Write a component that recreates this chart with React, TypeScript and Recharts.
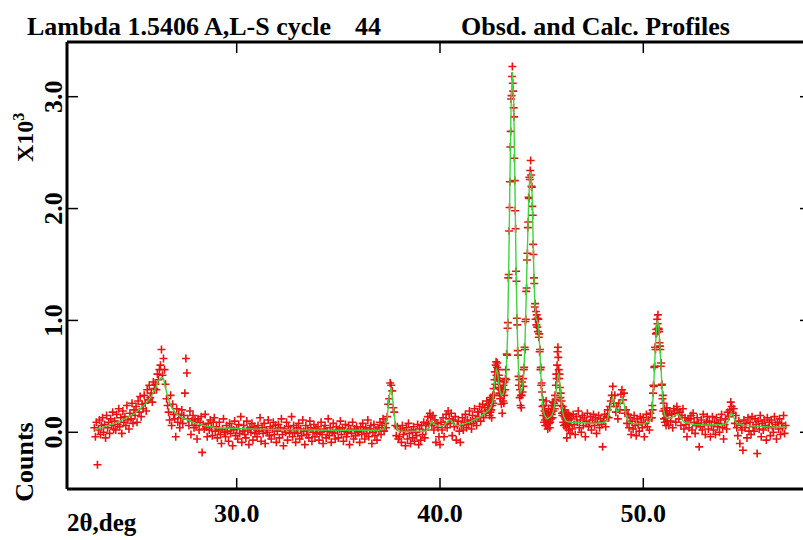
import { ScatterChart, Scatter, XAxis, YAxis } from 'recharts';

const W = 830;
const H = 540;
const FONT = "'Liberation Serif', 'Times New Roman', serif";

const X_TICKS = [30, 40, 50];
const Y_TICKS = [0, 1000, 2000, 3000];
const X_DOMAIN = [21.653, 58.249];
const Y_DOMAIN = [-507, 3489];

// observed counts, 23.00 -> 42.40 step 0.05
const OBS_A = [
  40, -40, 90, -290, 20, 110, -20, 60, 130, 0, 70, -50, 150, 40, 90, -10, 120, 60, 180, 30,
  100, 20, 160, 70, 210, 50, 130, -10, 190, 90, 140, 60, 240, 110, 30, 170, 120, 260, 80, 200,
  150, 230, 90, 280, 180, 320, 140, 250, 210, 330, 260, 190, 380, 290, 420, 310, 350, 270, 450, 390,
  430, 380, 520, 470, 560, 600, 740, 510, 660, 560, 430, 300, 240, 180, 110, 330, 60, 250, 160, 120,
  -40, 210, 90, 160, 40, 130, 200, 80, 150, 350, 660, 530, 120, 60, 190, -20, 100, 150, 40, 110,
  60, -60, 120, 20, 90, 140, -180, 70, 30, 160, 50, -40, 80, 20, 110, 40, -30, 90, 130, 10,
  50, -50, 20, 90, -20, -100, 30, 120, 0, -40, 60, 10, -80, 80, -10, 40, -120, 20, 100, -30,
  30, -60, 70, -10, 140, -90, 10, 60, -20, -50, 100, 20, -110, 40, 0, 80, -70, 50, -10, 30,
  -40, 60, 10, 130, -80, 40, -10, 80, -100, 20, 0, 110, -30, 50, -60, 30, 90, -20, 60, -90,
  10, 70, -50, 40, 120, -20, -120, 30, 0, 90, -70, 50, -10, 20, 140, -40, 60, 0, -90, 40,
  -10, 80, -60, 30, -30, 110, 10, -110, 60, -20, 20, -50, 100, 40, -80, 0, 70, -40, 30, -10,
  50, -70, 0, 90, -20, -100, 30, 60, -50, 10, 120, -30, 40, -90, 0, 80, -10, -60, 50, 20,
  -50, 30, 100, -20, 40, -80, 10, 70, -40, 0, 60, -110, 20, -10, 90, -60, 30, -30, 50, 10,
  0, -90, 50, -20, 80, 20, -60, 40, -10, 110, -40, 30, 60, -100, 0, 70, -30, 20, -70, 40,
  20, 90, -20, 60, 120, 10, 80, 40, 140, 250, 300, 440, 420, 370, 220, 180, 60, -30, 50, -60,
  -40, 30, -90, 60, -20, 10, -120, 40, -60, 80, -10, -100, 20, -50, 50, -80, 0, -30, 70, -110,
  30, -70, 60, -20, 90, -50, 20, 80, 140, 70, 170, 130, 60, 150, 20, 110, -90, 80, 40, -40,
  -110, 90, 20, 130, -40, 70, 160, 40, 190, 120, 80, 170, -30, 110, 50, 140, -70, 60, 100, 10,
  -90, 60, 130, 20, 90, 160, 40, 110, 70, 190, 100, 30, 150, 80, 210, 120, 60, 180, 140, 230,
  100, 190, 250, 130, 220, 170, 280, 200, 240,
];

// observed counts, 42.42 -> 46.40 step 0.02
const OBS_B = [
  260, 150, 290, 180, 310, 200, 130, 280, 240, 330,
  260, 390, 330, 470, 540, 430, 600, 630, 510, 580,
  620, 480, 560, 400, 510, 350, 460, 300, 380, 330,
  250, 390, 170, 360, 280, 420, 260, 330, 450, 380,
  480, 560, 470, 700, 690, 930, 980, 1380, 1410, 1800,
  2010, 2240, 2550, 2690, 2980, 3010, 3180, 3270, 3120, 3050,
  2900, 2820, 2450, 2250, 1980, 1820, 1440, 1350, 1020, 960,
  730, 690, 500, 420, 470, 310, 380, 240, 330, 220,
  330, 450, 360, 480, 410, 560, 580, 760, 740, 990,
  1010, 1260, 1290, 1540, 1600, 1830, 1880, 2100, 2090, 2280,
  2260, 2340, 2430, 2300, 2200, 2190, 2020, 1940, 1680, 1590,
  1380, 1330, 1120, 1150, 1010, 1080, 960, 1050, 940, 1020,
  900, 1010, 850, 880, 720, 740, 560, 580, 420, 440,
  360, 230, 290, 150, 240, 90, 190, 110, 60, 170,
  280, 60, 170, 100, 30, 150, 210, 80, 130, 40,
  90, 180, 120, 210, 160, 240, 130, 270, 190, 240,
  260, 210, 330, 290, 420, 520, 480, 600, 720, 760,
  670, 560, 480, 520, 400, 310, 350, 240, 280, 170,
  150, 230, 90, 180, 60, 140, 200, 70, 120, 160,
  40, -50, 130, 80, 170, 20, 110, 60, 150, -10,
];

// observed counts, 46.45 -> 50.40 step 0.05
const OBS_C = [
  120, 30, 160, 70, -20, 140, 90, 190, 40, 110, 0, 150, 60, 130, -40, 100, 170, 50, 80, 140,
  20, 110, 160, 60, 130, -10, 90, 150, 40, 120, 70, -130, 100, 160, 50, 140, 200, 130, 230, 280,
  330, 410, 260, 330, 180, 230, 120, 260, 200, 340, 380, 290, 350, 170, 200, 80, 160, 40, 130, -20,
  100, 30, 150, 60, -30, 120, 70, 10, 140, 90, 40, 130, -40, 80, 160, 50, 110, 20, 170, 130,
];

// observed counts, 50.42 -> 51.20 step 0.02
const OBS_D = [
  130, 240, 200, 350, 420, 410, 580, 590, 760, 740,
  880, 920, 890, 1010, 970, 1050, 930, 920, 900, 800,
  770, 740, 590, 620, 420, 430, 300, 330, 190, 260,
  120, 210, 90, 190, 130, 60, 170, 220, 100, 150,
];

// observed counts, 51.25 -> 57.00 step 0.05
const OBS_E = [
  60, 190, 100, 160, 40, 210, 170, 90, 230, 200, 120, 180, 60, 150, 210, 30, 130, 70, -40, 110,
  40, 120, 150, 20, 170, 90, -10, 60, 130, 80, -130, 50, 110, 20, 160, 70, -20, 90, 140, 30,
  100, -40, 60, 140, 20, 90, -20, 130, 50, 80, 0, 110, 160, 40, -60, 70, 120, 30, 180, 140,
  200, 270, 230, 170, 210, 80, 150, 40, -30, 100, -100, 60, 20, -160, 110, 40, 80, -50, 130, 10,
  90, -20, 140, 50, 10, 120, 70, -190, 100, 30, 150, -40, 80, 20, 110, 60, -70, 130, 40, 90,
  -30, 110, 50, 0, 140, 70, -60, 90, 30, 120, -20, 80, 40, 150, -10, 60,
];

// calculated profile
const CALC_X = [
  23.0, 23.5, 24.0, 24.5, 25.0, 25.5, 25.8, 26.0, 26.15, 26.3, 26.4, 26.5, 26.6, 26.8, 27.0, 27.3, 27.6, 28.0, 28.5,
  29.0, 31.0, 33.0, 35.0, 37.0, 37.25, 37.4, 37.5, 37.6, 37.7, 37.8, 37.95, 38.5, 39.3, 39.45, 39.6, 39.75, 39.9,
  40.2, 40.35, 40.45, 40.55, 40.7, 40.9, 41.5, 42.0, 42.4, 42.5, 42.6, 42.66, 42.72, 42.78, 42.84, 42.9, 42.96,
  43.02, 43.1, 43.18, 43.26, 43.32, 43.38, 43.44, 43.5, 43.56, 43.62, 43.68, 43.74, 43.8, 43.86, 43.92, 43.98,
  44.06, 44.12, 44.18, 44.24, 44.3, 44.36, 44.42, 44.48, 44.54, 44.6, 44.66, 44.72, 44.78, 44.84, 44.9, 44.96,
  45.02, 45.08, 45.14, 45.3, 45.5, 45.6, 45.68, 45.74, 45.8, 45.84, 45.88, 45.94, 46.0, 46.08, 46.2, 46.4,
  47.0, 47.5, 48.0, 48.2, 48.35, 48.45, 48.5, 48.6, 48.7, 48.8, 48.9, 48.98, 49.05, 49.15, 49.3, 49.6, 50.0,
  50.3, 50.4, 50.46, 50.52, 50.58, 50.64, 50.7, 50.76, 50.82, 50.88, 50.94, 51.0, 51.06, 51.14, 51.4, 51.55,
  51.7, 51.85, 52.0, 52.5, 53.0, 53.5, 54.0, 54.15, 54.25, 54.32, 54.4, 54.5, 54.6, 55.0, 56.0, 57.0,
];
const CALC_Y = [
  20, 50, 80, 120, 170, 250, 320, 390, 460, 490, 480, 400, 320, 220, 170, 130, 110, 80, 55,
  40, 28, 22, 18, 18, 30, 120, 320, 400, 250, 80, 10, 8, 12, 40, 100, 70, 55,
  60, 90, 115, 105, 65, 60, 95, 140, 200, 220, 280, 380, 500, 560, 530, 430, 360,
  330, 340, 390, 520, 850, 1450, 2250, 2950, 3220, 3000, 2300, 1500, 900, 560, 400, 360,
  400, 520, 800, 1200, 1650, 2050, 2300, 2330, 2080, 1550, 1170, 1020, 1000, 960, 780, 520,
  320, 200, 150, 120, 150, 200, 300, 420, 510, 520, 470, 340, 220, 140, 100, 90,
  85, 80, 85, 100, 180, 290, 310, 250, 180, 200, 280, 305, 260, 150, 90, 75, 75,
  95, 130, 250, 450, 700, 900, 1000, 950, 780, 550, 330, 200, 150, 130, 130, 150,
  160, 130, 90, 70, 65, 65, 70, 90, 140, 170, 160, 110, 75, 60, 50, 45,
];

const OBS_SEGMENTS = [
  { start: 23.0, step: 0.05, values: OBS_A },
  { start: 42.42, step: 0.02, values: OBS_B },
  { start: 46.45, step: 0.05, values: OBS_C },
  { start: 50.42, step: 0.02, values: OBS_D },
  { start: 51.25, step: 0.05, values: OBS_E },
];

const obsData = OBS_SEGMENTS.flatMap((s) =>
  s.values.map((v, i) => ({ x: +(s.start + i * s.step).toFixed(2), y: v }))
);
const calcData = CALC_X.map((x, i) => ({ x, y: CALC_Y[i] }));

const Plus = (p: any) => {
  const { cx, cy } = p;
  if (cx == null || cy == null) return <g />;
  return (
    <path
      d={`M${cx - 4},${cy}H${cx + 4}M${cx},${cy - 4}V${cy + 4}`}
      stroke="#e81414"
      strokeWidth={1.6}
      fill="none"
    />
  );
};

const NoDot = () => <g />;

const BottomTick = ({ x, y, payload }: any) => (
  <g>
    <line x1={x} x2={x} y1={y} y2={y - 11} stroke="#000" strokeWidth={1.5} />
    <text x={x} y={y + 33} textAnchor="middle" fontFamily={FONT} fontWeight="bold" fontSize={26} fill="#000">
      {Number(payload.value).toFixed(1)}
    </text>
  </g>
);

const TopTick = ({ x, y }: any) => (
  <line x1={x} x2={x} y1={y} y2={y + 11} stroke="#000" strokeWidth={1.5} />
);

const LeftTick = ({ x, y, payload }: any) => (
  <g>
    <line x1={x} x2={x + 11} y1={y} y2={y} stroke="#000" strokeWidth={1.5} />
    <text
      x={x - 5}
      y={y}
      transform={`rotate(-90 ${x - 5} ${y})`}
      textAnchor="middle"
      fontFamily={FONT}
      fontWeight="bold"
      fontSize={26}
      fill="#000"
    >
      {(payload.value / 1000).toFixed(1)}
    </text>
  </g>
);

const RightTick = ({ x, y }: any) => (
  <line x1={x} x2={x - 11} y1={y} y2={y} stroke="#000" strokeWidth={1.5} />
);

const axisLine = { stroke: '#000', strokeWidth: 3 };

export default function App() {
  return (
    <div style={{ position: 'absolute', left: 0, top: 0, width: 803, height: H, overflow: 'hidden', background: '#fff' }}>
      <div style={{ position: 'relative', width: W, height: H }}>
        <ScatterChart width={W} height={H} margin={{ top: 0, right: 0, bottom: 0, left: 0 }}>
          <XAxis
            xAxisId="b"
            type="number"
            dataKey="x"
            orientation="bottom"
            domain={X_DOMAIN}
            ticks={X_TICKS}
            allowDataOverflow
            height={51}
            tickSize={0}
            tickMargin={0}
            tickLine={false}
            axisLine={axisLine}
            tick={<BottomTick />}
          />
          <XAxis
            xAxisId="t"
            type="number"
            dataKey="x"
            orientation="top"
            domain={X_DOMAIN}
            ticks={X_TICKS}
            allowDataOverflow
            height={42}
            tickSize={0}
            tickMargin={0}
            tickLine={false}
            axisLine={axisLine}
            tick={<TopTick />}
          />
          <YAxis
            yAxisId="l"
            type="number"
            dataKey="y"
            orientation="left"
            domain={Y_DOMAIN}
            ticks={Y_TICKS}
            allowDataOverflow
            width={67}
            tickSize={0}
            tickMargin={0}
            tickLine={false}
            axisLine={axisLine}
            tick={<LeftTick />}
          />
          <YAxis
            yAxisId="r"
            type="number"
            dataKey="y"
            orientation="right"
            domain={Y_DOMAIN}
            ticks={Y_TICKS}
            allowDataOverflow
            width={19}
            tickSize={0}
            tickMargin={0}
            tickLine={false}
            axisLine={axisLine}
            tick={<RightTick />}
          />
          <Scatter
            xAxisId="b"
            yAxisId="l"
            data={obsData}
            shape={<Plus />}
            isAnimationActive={false}
          />
          <Scatter
            xAxisId="b"
            yAxisId="l"
            data={calcData}
            shape={<NoDot />}
            line={{ stroke: '#3ed43e', strokeWidth: 1.4 }}
            isAnimationActive={false}
          />
        </ScatterChart>
        <svg
          width={W}
          height={H}
          style={{ position: 'absolute', left: 0, top: 0, pointerEvents: 'none' }}
          fontFamily={FONT}
          fontWeight="bold"
          fill="#000"
        >
          <text x={27} y={35} fontSize={26}>Lambda 1.5406 A,L-S cycle</text>
          <text x={355} y={35} fontSize={26}>44</text>
          <text x={461} y={35} fontSize={26}>Obsd. and Calc. Profiles</text>
          <text x={33} y={162} fontSize={24} transform="rotate(-90 33 162)">
            X10<tspan dy={-9} fontSize={16}>3</tspan>
          </text>
          <text x={33} y={462} fontSize={26} textAnchor="middle" transform="rotate(-90 33 462)">Counts</text>
          <text x={67} y={531} fontSize={25}>2θ,deg</text>
        </svg>
      </div>
    </div>
  );
}
